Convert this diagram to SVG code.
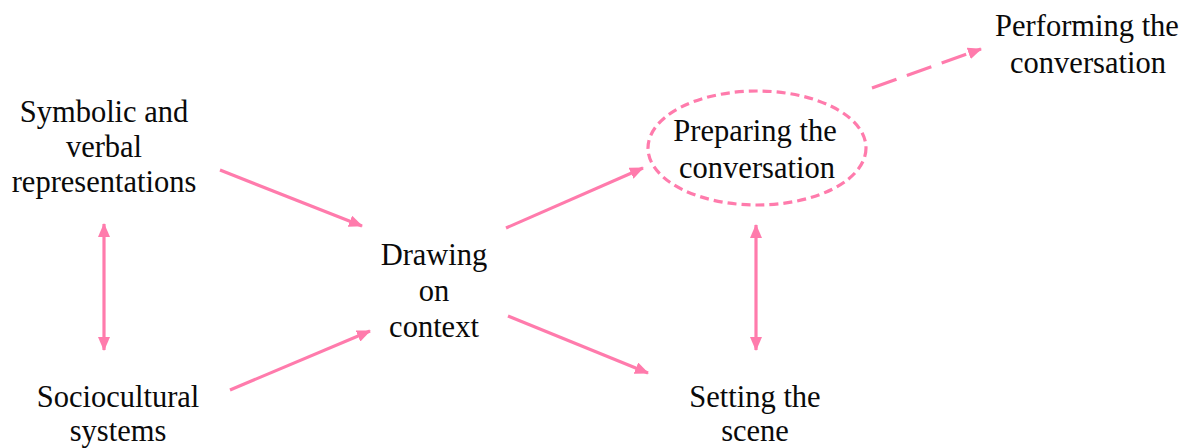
<svg xmlns="http://www.w3.org/2000/svg" width="1189" height="448" viewBox="0 0 1189 448">
<style>
text{font-family:"Liberation Serif","Times New Roman",serif;font-size:30.5px;fill:#0a0a0a;text-anchor:middle}
.c{stroke:#ff7bac;stroke-width:3.2;fill:none}
</style>
<defs>
<marker id="ah" viewBox="0 0 14 12" refX="13" refY="6" markerWidth="14" markerHeight="12" markerUnits="userSpaceOnUse" orient="auto-start-reverse">
<path d="M0,0 L14,6 L0,12 Z" fill="#ff7bac"/>
</marker>
</defs>
<rect width="1189" height="448" fill="#fff"/>
<g id="connectors">
<line class="c" x1="220" y1="170" x2="362" y2="226" marker-end="url(#ah)"/>
<line class="c" x1="230" y1="390" x2="370" y2="331" marker-end="url(#ah)"/>
<line class="c" x1="506" y1="228" x2="643" y2="168" marker-end="url(#ah)"/>
<line class="c" x1="508" y1="316" x2="648" y2="373" marker-end="url(#ah)"/>
<line class="c" x1="104" y1="224" x2="104" y2="350" marker-start="url(#ah)" marker-end="url(#ah)"/>
<line class="c" x1="756" y1="225" x2="756" y2="350" marker-start="url(#ah)" marker-end="url(#ah)"/>
<line class="c" x1="872" y1="88" x2="981" y2="49" stroke-dasharray="26 11" marker-end="url(#ah)"/>
</g>
<g id="symbolic">
<text x="104" y="122">Symbolic and</text>
<text x="104" y="157">verbal</text>
<text x="104" y="192">representations</text>
</g>
<g id="sociocultural">
<text x="118" y="407">Sociocultural</text>
<text x="118" y="441">systems</text>
</g>
<g id="drawing">
<text x="434" y="265">Drawing</text>
<text x="434" y="301">on</text>
<text x="434" y="337">context</text>
</g>
<g id="preparing">
<ellipse cx="757" cy="148" rx="109" ry="57" class="c" stroke-dasharray="9 5"/>
<text x="755" y="141">Preparing the</text>
<text x="757" y="178">conversation</text>
</g>
<g id="setting">
<text x="755" y="407">Setting the</text>
<text x="755" y="441">scene</text>
</g>
<g id="performing">
<text x="1087" y="36">Performing the</text>
<text x="1088" y="73">conversation</text>
</g>
</svg>
